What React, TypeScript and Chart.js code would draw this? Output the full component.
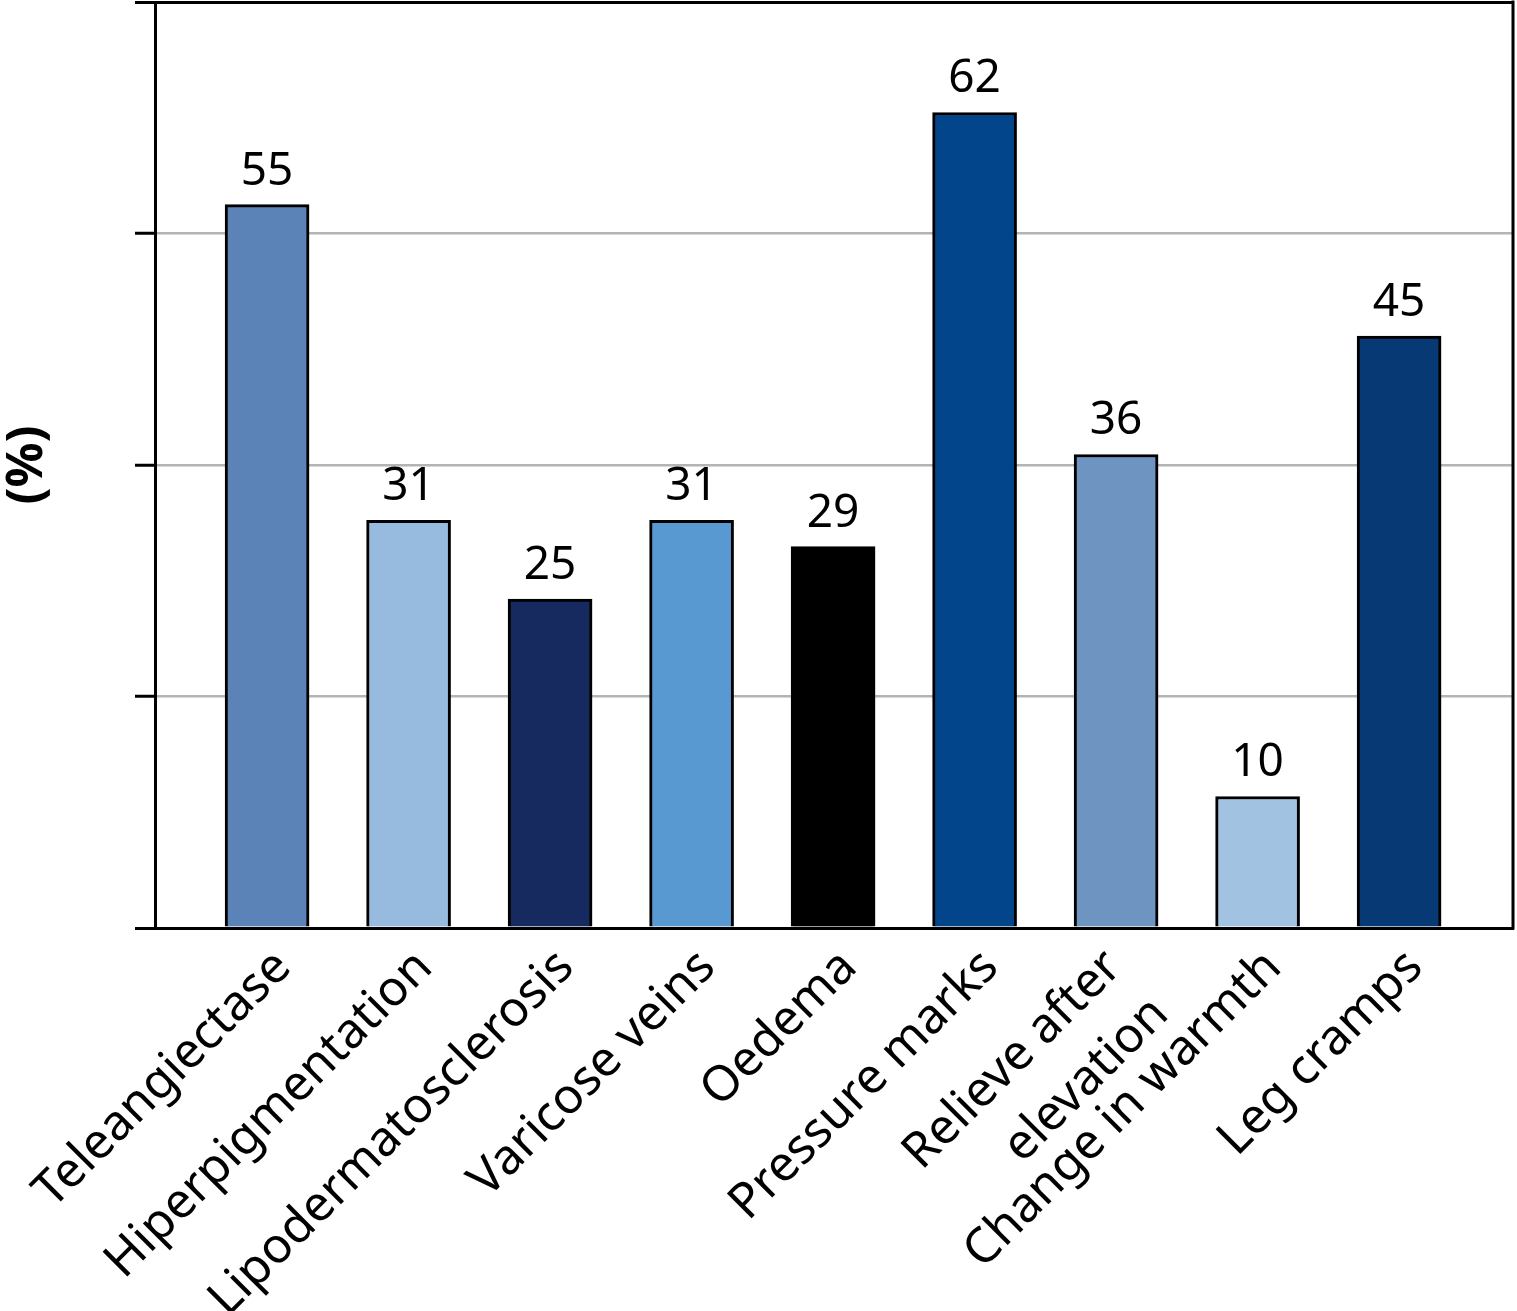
import React, { useEffect, useRef } from "react";
import { Chart, registerables } from "chart.js";

Chart.register(...registerables);

const categories: (string | string[])[] = [
  "Teleangiectase",
  "Hiperpigmentation",
  "Lipodermatosclerosis",
  "Varicose veins",
  "Oedema",
  "Pressure marks",
  ["Relieve after", "elevation"],
  "Change in warmth",
  "Leg cramps",
];
const values = [55, 31, 25, 31, 29, 62, 36, 10, 45];
const barColors = [
  "#5b83b7",
  "#97badf",
  "#162a5f",
  "#5899d2",
  "#000000",
  "#02458b",
  "#6e95c2",
  "#a2c2e2",
  "#073a74",
];
const yMax = 70.4;
const yStep = 17.6;
const yTitle = "(%)";

const FONT = "'Noto Sans', sans-serif";
const multiLineNudge = 0.13;

const valueLabels = {
  id: "valueLabels",
  afterDatasetsDraw(chart: any) {
    const ctx = chart.ctx;
    const meta = chart.getDatasetMeta(0);
    ctx.save();
    ctx.font = `46px ${FONT}`;
    ctx.fillStyle = "#000";
    ctx.textAlign = "center";
    ctx.textBaseline = "alphabetic";
    meta.data.forEach((bar: any, i: number) => {
      ctx.fillText(String(values[i]), bar.x, bar.y - 20);
    });
    ctx.restore();
  },
};

const frame = {
  id: "frame",
  afterDraw(chart: any) {
    const { ctx, chartArea } = chart;
    ctx.save();
    ctx.strokeStyle = "#000";
    ctx.lineWidth = 3;
    ctx.beginPath();
    ctx.moveTo(chartArea.right, chartArea.top - 1.5);
    ctx.lineTo(chartArea.right, chartArea.bottom + 1.5);
    ctx.stroke();
    ctx.restore();
  },
};

export default function App() {
  const ref = useRef<HTMLCanvasElement | null>(null);
  useEffect(() => {
    document.body.style.margin = "0";
    if (!ref.current) return;
    const chart = new Chart(ref.current, {
      type: "bar",
      data: {
        datasets: [
          {
            data: values.map((v, i) => ({ x: i, y: v })),
            backgroundColor: barColors,
            borderColor: "#000",
            borderWidth: 3,
            barThickness: 84,
          },
        ],
      },
      options: {
        animation: false,
        responsive: false,
        devicePixelRatio: 1,
        layout: { padding: { top: 2, right: 4, left: 0, bottom: 0 } },
        plugins: { legend: { display: false }, tooltip: { enabled: false } },
        scales: {
          x: {
            type: "linear",
            offset: false,
            min: -0.792,
            max: 8.805,
            grid: { display: false, offset: false, drawTicks: false },
            border: { display: true, color: "#000", width: 3 },
            afterBuildTicks: (scale: any) => {
              scale.ticks = categories.map((c, i) => ({
                value: Array.isArray(c) ? i - multiLineNudge : i,
              }));
            },
            afterFit: (scale: any) => {
              scale.height = 383;
            },
            ticks: {
              autoSkip: false,
              minRotation: 45,
              maxRotation: 45,
              padding: 8,
              labelOffset: 16,
              color: "#000",
              font: { family: FONT, size: 49, lineHeight: 1.35 },
              callback: (_v: any, i: number) => categories[i] as any,
            },
          },
          y: {
            min: 0,
            max: yMax,
            afterBuildTicks: (scale: any) => {
              scale.ticks = [0, 1, 2, 3, 4].map((i) => ({ value: i * yStep }));
            },
            afterFit: (scale: any) => {
              scale.width = 155;
            },
            grid: {
              color: (c: any) =>
                c.tick && (c.tick.value === 0 || c.tick.value >= yMax - 1e-6) ? "#000" : "#b4b4b4",
              lineWidth: (c: any) =>
                c.tick && (c.tick.value === 0 || c.tick.value >= yMax - 1e-6) ? 3 : 2.5,
              tickColor: "#000",
              tickWidth: 3,
              tickLength: 20,
            },
            border: { display: true, color: "#000", width: 3 },
            ticks: { display: false },
            title: {
              display: true,
              text: yTitle,
              color: "#000",
              font: { family: FONT, size: 50, weight: "bold", lineHeight: 1.1 },
              padding: { top: 0, bottom: 0 },
            },
          },
        },
      },
      plugins: [valueLabels, frame],
    } as any);
    return () => chart.destroy();
  }, []);
  return (
    <div style={{ width: 1517, height: 1311 }}>
      <canvas ref={ref} width={1517} height={1311} style={{ display: "block" }} />
    </div>
  );
}
